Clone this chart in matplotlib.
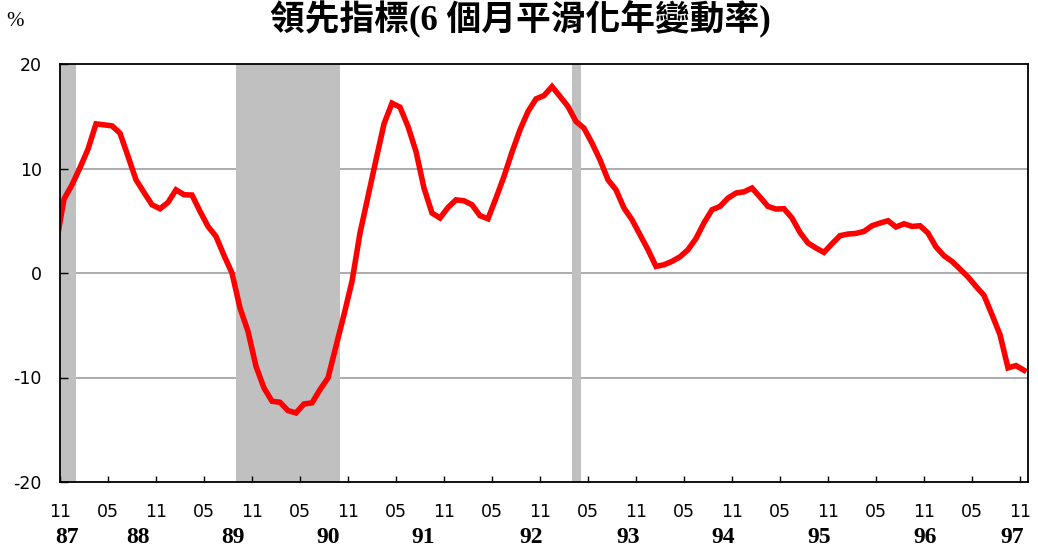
import numpy as np
import matplotlib
matplotlib.use("Agg")
import matplotlib.pyplot as plt
import matplotlib.transforms as mtransforms

plt.rcParams['axes.unicode_minus'] = False

# Data: monthly values, Oct 87 .. Nov 97 (ROC years)
values = [2.7,
          7.07, 8.44, 10.08, 11.85, 14.27, 14.18, 14.08, 13.38, 11.17, 8.92,
          7.71, 6.53, 6.15, 6.75, 7.96, 7.49, 7.46, 5.9, 4.46, 3.5,
          1.68, 0.0, -3.35, -5.58, -8.93, -11.0, -12.27, -12.37, -13.17, -13.39,
          -12.53, -12.43, -11.16, -10.04, -7.01, -3.99, -0.8, 3.82, 7.32, 10.83,
          14.27, 16.25, 15.87, 14.02, 11.63, 8.13, 5.74, 5.26, 6.27, 7.0,
          6.91, 6.53, 5.48, 5.19, 7.17, 9.24, 11.57, 13.7, 15.45, 16.66,
          16.98, 17.84, 16.9, 15.93, 14.5, 13.86, 12.43, 10.83, 8.92, 7.96,
          6.21, 5.1, 3.66, 2.23, 0.63, 0.79, 1.11, 1.55, 2.23, 3.3,
          4.8, 6.05, 6.37, 7.17, 7.65, 7.77, 8.13, 7.27, 6.37, 6.12,
          6.15, 5.26, 3.88, 2.87, 2.39, 1.97, 2.8, 3.57, 3.73, 3.79,
          3.98, 4.52, 4.78, 5.0, 4.4, 4.71, 4.46, 4.52, 3.82, 2.49,
          1.65, 1.11, 0.38, -0.38, -1.28, -2.14, -3.99, -5.9, -9.08, -8.86,
          -9.31]

# shaded periods, in months counted from Nov 87
shade_start = [0, 22, 64]
shade_end = [2, 35, 65.1]

month_labels = ["11", "05"] * 10 + ["11"]
year_labels = ["87", "88", "89", "90", "91", "92", "93", "94", "95", "96", "97"]
year_pos = [0.85, 9.75, 21.6, 33.5, 45.4, 58.9, 71, 82.9, 94.9, 108.2, 119.0]

y_ticks = [-20, -10, 0, 10, 20]

# each point sits in the middle of its month
x = np.arange(-1, len(values) - 1) + 0.5

fig = plt.figure(figsize=(10.38, 5.51), dpi=100)
ax = fig.add_axes([60 / 1038, 1 - 482 / 551, 968 / 1038, 418 / 551])

# grid lines under the shading
for yv in y_ticks[1:-1]:
    ax.axhline(yv, color='#a6a6a6', lw=1.3, zorder=0.5)

for s, e in zip(shade_start, shade_end):
    ax.axvspan(s, e, color='#c0c0c0', lw=0, zorder=1)

ax.plot(x, values, color='#ff0000', lw=4, zorder=3, solid_joinstyle='miter')

ax.set_xlim(0, 121)
ax.set_ylim(-20, 20)

ax.set_xticks(np.arange(0, 121, 6))
ax.set_xticklabels(month_labels, fontsize=12.5, family='DejaVu Sans')
ax.set_yticks(y_ticks)
ax.set_yticklabels([str(v) for v in y_ticks], fontsize=12.5, family='DejaVu Sans')

ax.tick_params(axis='x', direction='in', length=4, width=1, pad=15)
ax.tick_params(axis='y', direction='in', length=6, width=1, pad=13)

for side in ['left', 'right', 'top', 'bottom']:
    ax.spines[side].set_linewidth(1.3)
    ax.spines[side].set_color('black')
    ax.spines[side].set_zorder(4)

# year labels under the month labels
trans = mtransforms.blended_transform_factory(ax.transData, ax.transAxes)
for pos, lab in zip(year_pos, year_labels):
    ax.text(pos, -0.133, lab, transform=trans, ha='center', va='center',
            fontsize=17, fontweight='bold', family='Liberation Serif')

fig.text(0.501, 0.998, "領先指標(6 個月平滑化年變動率)", ha='center', va='top',
         fontsize=25, fontweight='bold', family=['Liberation Serif', 'Noto Sans CJK TC'])
fig.text(15 / 1038, 1 - 22 / 551, "%", ha='center', va='center',
         fontsize=15, family='Liberation Serif')

fig.savefig("out.png", dpi=100)
